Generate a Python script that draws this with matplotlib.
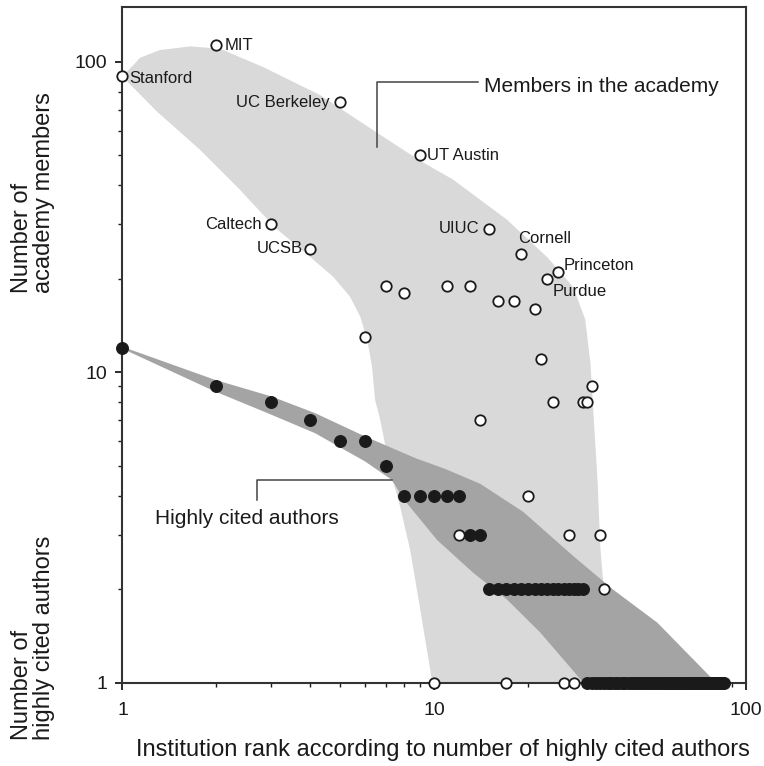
"""Academy members vs. highly cited authors, by institution rank (log-log)."""

import matplotlib

matplotlib.use("Agg")
import matplotlib.pyplot as plt
from matplotlib.ticker import LogLocator, NullFormatter

plt.rcParams["font.family"] = ["Liberation Sans", "DejaVu Sans"]

# academy members per institution (open circles), x = rank by highly cited authors
member_rank = [1, 2, 3, 4, 5, 6, 7, 8, 9, 10, 11, 12, 13, 14, 15, 16, 17, 18, 19,
               20, 21, 22, 23, 24, 25, 26, 27, 28, 30, 31, 32, 34, 35]
members = [90, 113, 30, 25, 74, 13, 19, 18, 50, 1, 19, 3, 19, 7, 29, 17, 1, 17, 24,
           4, 16, 11, 20, 8, 21, 1, 3, 1, 8, 8, 9, 3, 2]

# highly cited authors per institution (filled circles)
cited_rank = list(range(1, 86))
cited = [12, 9, 8, 7, 6, 6, 5, 4, 4, 4, 4, 4, 3, 3] + [2] * 16 + [1] * 55

# named institutions: name, rank
label_names = ["Stanford", "MIT", "UC Berkeley", "UT Austin", "Caltech", "UCSB",
               "UIUC", "Cornell", "Princeton", "Purdue"]
label_ranks = [1, 2, 5, 9, 3, 4, 15, 19, 25, 23]

# shaded envelope around the academy-member points
light_x = [1.00, 1.14, 1.32, 1.65, 2.06, 2.83, 4.31, 6.56, 9.0, 11.5, 17.1, 23.1,
           27.9, 30.5, 31.7, 32.4, 33.4, 34.1, 35.0, 35.7, 9.85, 9.71, 9.02, 8.37,
           7.78, 7.22, 6.71, 6.46, 6.32, 6.10, 5.79, 5.37, 4.74, 4.00, 3.09, 2.38,
           1.77, 1.29]
light_y = [89.5, 103, 109, 112, 110, 96, 78, 59, 48, 41.7, 31, 23.4,
           18.8, 14.8, 10.7, 7.4, 4.5, 2.74, 1.99, 1.0, 1.0, 1.10, 1.72, 2.68,
           3.68, 4.85, 7.03, 8.15, 10.4, 12.7, 15.1, 17.5, 20.3, 23.5, 29.2, 38.7,
           52.1, 69.1]

# shaded band around the highly-cited points: upper edge then lower edge back
dark_x = [1.0, 1.98, 3.01, 4.15, 6.00, 8.69, 10.85, 14.05, 19.3, 27.9, 37.6, 52.0,
          78.7, 80.4, 30.1, 21.9, 17.15, 13.34, 10.22, 8.01, 7.31, 6.00, 4.15, 3.01,
          1.98, 1.0]
dark_y = [12.07, 9.45, 8.35, 7.38, 6.21, 5.29, 4.88, 4.37, 3.55, 2.56, 1.99, 1.56,
          1.02, 1.0, 1.0, 1.45, 1.85, 2.26, 2.88, 3.88, 4.50, 5.16, 6.36, 7.29,
          8.67, 11.9]

# leader lines for the two group labels
members_leader_x = [6.56, 6.56, 13.85]
members_leader_y = [53.3, 85.7, 85.7]
cited_leader_x = [2.70, 2.70, 7.31]
cited_leader_y = [3.88, 4.50, 4.50]

INK = "#1a1a1a"

# (dx, dy) in points and horizontal alignment for each institution label
LABEL_STYLE = {
    "Stanford": ((5, -2), "left"),
    "MIT": ((6, 0), "left"),
    "UC Berkeley": ((-8, 0), "right"),
    "UT Austin": ((5, 0), "left"),
    "Caltech": ((-7, 0), "right"),
    "UCSB": ((-5, 0), "right"),
    "UIUC": ((-7, 0), "right"),
    "Cornell": ((-2, 11), "left"),
    "Princeton": ((4, 5), "left"),
    "Purdue": ((4, -9), "left"),
}


def main() -> None:
    fig = plt.figure(figsize=(7.64, 7.66), dpi=100)
    ax = fig.add_axes([0.1603, 0.1087, 0.8161, 0.8822])
    ax.set_xscale("log")
    ax.set_yscale("log")
    ax.set_xlim(1, 100)
    ax.set_ylim(1, 150)

    ax.fill(light_x, light_y, color="#d9d9d9", lw=0, zorder=1)
    ax.fill(dark_x, dark_y, color="#a4a4a4", lw=0, zorder=2)

    ax.plot(members_leader_x, members_leader_y, color="#444444", lw=1.1, zorder=3)
    ax.plot(cited_leader_x, cited_leader_y, color="#444444", lw=1.1, zorder=3)
    ax.text(14.4, 83.3, "Members in the academy", fontsize=15, color=INK,
            ha="left", va="center")
    ax.text(1.27, 3.39, "Highly cited authors", fontsize=15, color=INK,
            ha="left", va="center")

    ax.plot(member_rank, members, "o", ms=7.5, mfc="white", mec=INK, mew=1.3,
            clip_on=False, zorder=4)
    ax.plot(cited_rank, cited, "o", ms=8.5, mfc=INK, mec=INK, mew=0.8,
            clip_on=False, zorder=5)

    for name, rank in zip(label_names, label_ranks):
        value = members[member_rank.index(rank)]
        offset, ha = LABEL_STYLE[name]
        ax.annotate(name, (rank, value), xytext=offset, textcoords="offset points",
                    ha=ha, va="center", fontsize=12, color=INK, zorder=6)

    ax.set_xticks([1, 10, 100])
    ax.set_xticklabels(["1", "10", "100"])
    ax.set_yticks([1, 10, 100])
    ax.set_yticklabels(["1", "10", "100"])
    for axis in (ax.xaxis, ax.yaxis):
        axis.set_minor_locator(LogLocator(base=10, subs=range(2, 10)))
        axis.set_minor_formatter(NullFormatter())
    ax.tick_params(which="major", direction="out", length=5, width=1.3,
                   labelsize=14, colors=INK)
    ax.tick_params(axis="x", which="major", pad=9)
    ax.tick_params(axis="y", which="major", pad=6)
    ax.tick_params(which="minor", direction="out", length=3, width=1.0, colors=INK)
    for spine in ax.spines.values():
        spine.set_linewidth(1.5)
        spine.set_color("#333333")

    fig.text(443 / 764, 1 - 750 / 766,
             "Institution rank according to number of highly cited authors",
             fontsize=17, color=INK, ha="center", va="center")
    fig.text(33 / 764, 1 - 293 / 766, "Number of\nacademy members", rotation=90,
             fontsize=17, color=INK, ha="center", va="bottom",
             multialignment="left", linespacing=0.95)
    fig.text(33 / 764, 1 - 740 / 766, "Number of\nhighly cited authors", rotation=90,
             fontsize=17, color=INK, ha="center", va="bottom",
             multialignment="left", linespacing=0.95)

    fig.savefig("out.png", dpi=100)


if __name__ == "__main__":
    main()
